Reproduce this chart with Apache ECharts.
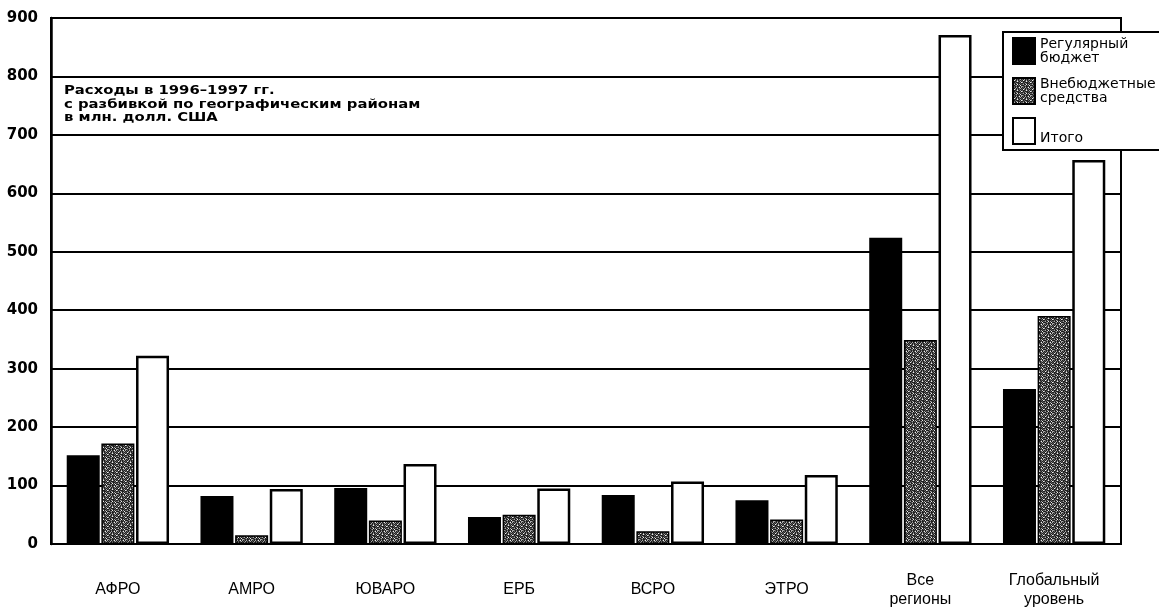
<!DOCTYPE html>
<html>
<head>
<meta charset="utf-8">
<script src="https://cdn.jsdelivr.net/npm/echarts@6/dist/echarts.min.js"></script>
<style>
html,body{margin:0;padding:0;background:#fff;}
#chart{width:1159px;height:611px;}
</style>
</head>
<body>
<div id="chart"></div>
<script>
const categories = ['АФРО', 'АМРО', 'ЮВАРО', 'ЕРБ', 'ВСРО', 'ЭТРО', 'Все\nрегионы', 'Глобальный\nуровень'];
const regularBudget = [152, 82, 96, 46, 84, 75, 524, 265];
const extraBudget = [172, 15, 40, 50, 22, 42, 349, 390];
const totalValues = [322, 94, 137, 95, 107, 118, 871, 657];
const seriesNames = ['Регулярный бюджет', 'Внебюджетные средства', 'Итого'];
const legendLabels = ['Регулярный\nбюджет', 'Внебюджетные\nсредства', '\nИтого'];
const yTicks = [0, 100, 200, 300, 400, 500, 600, 700, 800, 900];
const noteLines = ['Расходы в 1996–1997 гг.', 'с разбивкой по географическим районам', 'в млн. долл. США'];

// speckled grey texture for the extra-budget series
function makePattern() {
  const c = document.createElement('canvas');
  c.width = 9; c.height = 9;
  const ctx = c.getContext('2d');
  const rows = [
    '010201302',
    '102010120',
    '031020101',
    '100131020',
    '201000103',
    '010210010',
    '120030201',
    '001201030',
    '210100102'
  ];
  const shades = ['#1e1e1e', '#5a5a5a', '#a8a8a8', '#f0f0f0'];
  for (let y = 0; y < 9; y++) for (let x = 0; x < 9; x++) {
    ctx.fillStyle = shades[+rows[y][x]];
    ctx.fillRect(x, y, 1, 1);
  }
  return c;
}
const pattern = { image: makePattern(), repeat: 'repeat' };

const chart = echarts.init(document.getElementById('chart'));
const option = {
  animation: false,
  grid: { left: 51, right: 38, top: 18, bottom: 67, show: true, borderColor: '#000', borderWidth: 2, backgroundColor: 'transparent' },
  legend: {
    orient: 'vertical',
    left: 1003, top: 32,
    data: seriesNames,
    icon: 'rect',
    itemWidth: 22, itemHeight: 26, itemGap: 12,
    padding: [5, 30, 5, 9],
    borderColor: '#000', borderWidth: 2, backgroundColor: '#fff',
    formatter: n => legendLabels[seriesNames.indexOf(n)],
    textStyle: { fontFamily: 'DejaVu Sans', fontSize: 14, color: '#000', lineHeight: 14 }
  },
  xAxis: {
    type: 'category', data: categories,
    axisLine: { lineStyle: { color: '#000', width: 2 } },
    axisTick: { show: false },
    axisLabel: { color: '#000', fontFamily: 'Liberation Sans Narrow, Liberation Sans, sans-serif', fontSize: 16, margin: 46, verticalAlign: 'middle', lineHeight: 19 }
  },
  yAxis: {
    type: 'value', min: 0, max: 900, interval: 100,
    axisLine: { show: true, lineStyle: { color: '#000', width: 2.5 } },
    axisTick: { show: false },
    splitLine: { lineStyle: { color: '#000', width: 1.8 } },
    axisLabel: { color: '#000', fontFamily: 'DejaVu Sans', fontWeight: 'bold', fontSize: 15, margin: 13, formatter: v => yTicks.indexOf(v) >= 0 ? String(v) : '' }
  },
  graphic: [{
    type: 'text', left: 64, top: 84, z: 100, scaleX: 1.14,
    style: { text: noteLines.join('\n'), fontFamily: 'DejaVu Sans', fontWeight: 'bold', fontSize: 13, lineHeight: 13.5, fill: '#000' }
  }],
  series: [
    { name: seriesNames[0], type: 'bar', data: regularBudget, barWidth: 33, barGap: '5%',
      itemStyle: { color: '#000', borderColor: '#000', borderWidth: 1.5 } },
    { name: seriesNames[1], type: 'bar', data: extraBudget, barWidth: 33, barGap: '5%',
      itemStyle: { color: pattern, borderColor: '#000', borderWidth: 1.5 } },
    { name: seriesNames[2], type: 'bar', data: totalValues, barWidth: 33, barGap: '5%',
      itemStyle: { color: '#fff', borderColor: '#000', borderWidth: 2.5 } }
  ]
};
chart.setOption(option);
</script>
</body>
</html>
